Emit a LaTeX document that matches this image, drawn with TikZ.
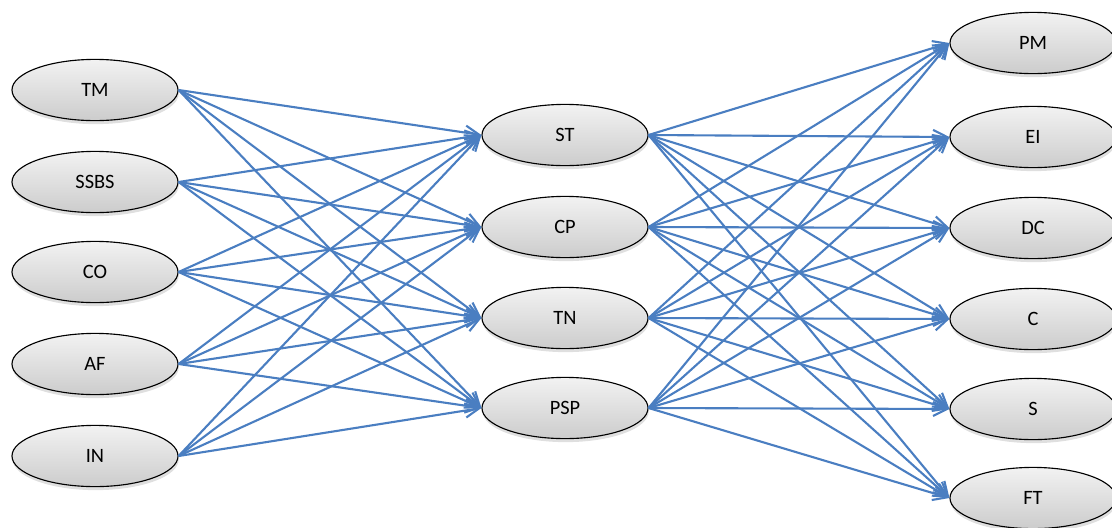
\documentclass[tikz,border=0pt]{standalone}
\usepackage{fontspec}
\setmainfont{Carlito}
\usetikzlibrary{shapes.geometric,arrows.meta,shadows}

\definecolor{linkblue}{RGB}{74,126,193}

\begin{document}
\begin{tikzpicture}[
    x=0.025cm, y=-0.025cm,
    factor/.style={ellipse, draw, thick, top color=gray!10, bottom color=gray!40, minimum width=4.15cm, minimum height=1.53cm, inner sep=0pt, font=\fontsize{14.5}{16}\selectfont, drop shadow={opacity=0.25, shadow xshift=0.5pt, shadow yshift=-2.5pt}},
    arrow/.style={draw=linkblue, line width=1.5pt, -{Straight Barb[length=3.5mm, width=3.5mm, line width=1.5pt]}}
]
    \useasboundingbox (0,0) rectangle (1112,527);

    % Facteurs d'entree
    \node[factor] (tm) at (95,90) {TM};
    \node[factor] (ssbs) at (95,182) {SSBS};
    \node[factor] (co) at (95,272) {CO};
    \node[factor] (af) at (95,364) {AF};
    \node[factor] (in) at (95,456) {IN};

    % Facteurs intermediaires
    \node[factor] (st) at (565,135) {ST};
    \node[factor] (cp) at (565,227) {CP};
    \node[factor] (tn) at (565,318) {TN};
    \node[factor] (psp) at (565,408) {PSP};

    % Resultats
    \node[factor] (pm) at (1033,43) {PM};
    \node[factor] (ei) at (1033,137) {EI};
    \node[factor] (dc) at (1033,228) {DC};
    \node[factor] (c) at (1033,319) {C};
    \node[factor] (s) at (1033,409) {S};
    \node[factor] (ft) at (1033,498) {FT};

    % Fleches entree -> intermediaire
    \draw[arrow] (tm.east) -- (st.west);
    \draw[arrow] (tm.east) -- (cp.west);
    \draw[arrow] (tm.east) -- (tn.west);
    \draw[arrow] (tm.east) -- (psp.west);

    \draw[arrow] (ssbs.east) -- (st.west);
    \draw[arrow] (ssbs.east) -- (cp.west);
    \draw[arrow] (ssbs.east) -- (tn.west);
    \draw[arrow] (ssbs.east) -- (psp.west);

    \draw[arrow] (co.east) -- (st.west);
    \draw[arrow] (co.east) -- (cp.west);
    \draw[arrow] (co.east) -- (tn.west);
    \draw[arrow] (co.east) -- (psp.west);

    \draw[arrow] (af.east) -- (st.west);
    \draw[arrow] (af.east) -- (cp.west);
    \draw[arrow] (af.east) -- (tn.west);
    \draw[arrow] (af.east) -- (psp.west);

    \draw[arrow] (in.east) -- (st.west);
    \draw[arrow] (in.east) -- (cp.west);
    \draw[arrow] (in.east) -- (tn.west);
    \draw[arrow] (in.east) -- (psp.west);

    % Fleches intermediaire -> resultats
    \draw[arrow] (st.east) -- (pm.west);
    \draw[arrow] (st.east) -- (ei.west);
    \draw[arrow] (st.east) -- (dc.west);
    \draw[arrow] (st.east) -- (c.west);
    \draw[arrow] (st.east) -- (s.west);
    \draw[arrow] (st.east) -- (ft.west);

    \draw[arrow] (cp.east) -- (pm.west);
    \draw[arrow] (cp.east) -- (ei.west);
    \draw[arrow] (cp.east) -- (dc.west);
    \draw[arrow] (cp.east) -- (c.west);
    \draw[arrow] (cp.east) -- (s.west);
    \draw[arrow] (cp.east) -- (ft.west);

    \draw[arrow] (tn.east) -- (pm.west);
    \draw[arrow] (tn.east) -- (ei.west);
    \draw[arrow] (tn.east) -- (dc.west);
    \draw[arrow] (tn.east) -- (c.west);
    \draw[arrow] (tn.east) -- (s.west);
    \draw[arrow] (tn.east) -- (ft.west);

    \draw[arrow] (psp.east) -- (pm.west);
    \draw[arrow] (psp.east) -- (ei.west);
    \draw[arrow] (psp.east) -- (dc.west);
    \draw[arrow] (psp.east) -- (c.west);
    \draw[arrow] (psp.east) -- (s.west);
    \draw[arrow] (psp.east) -- (ft.west);

\end{tikzpicture}
\end{document}
